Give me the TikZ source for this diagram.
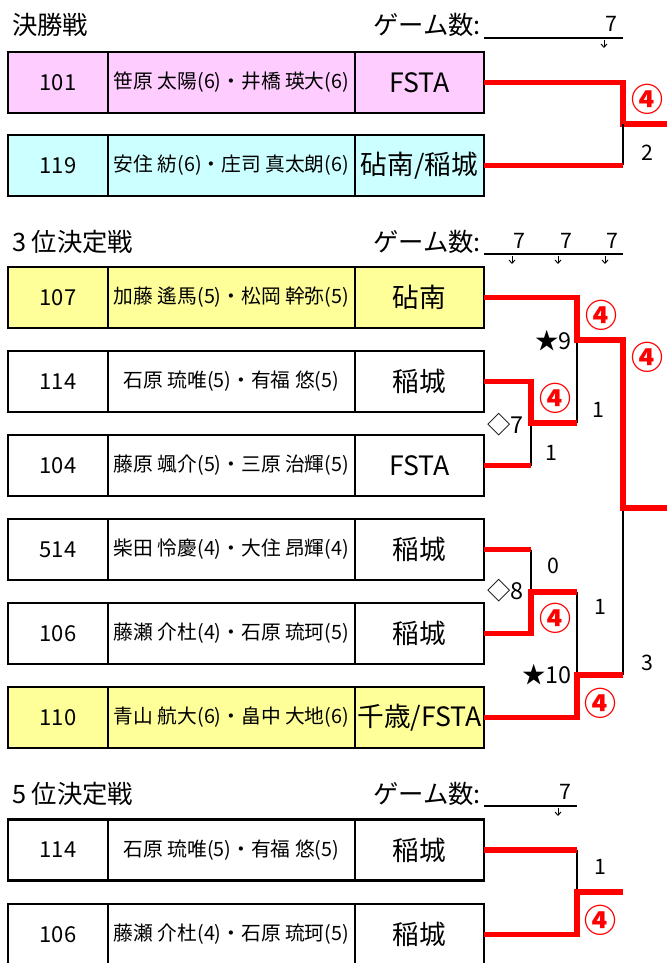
\documentclass[tikz,border=0pt]{standalone}
\usepackage{fontspec}
\setmainfont{Noto Sans CJK JP}
\usetikzlibrary{arrows.meta}
\definecolor{pinkc}{HTML}{FFCCFF}
\definecolor{cyanc}{HTML}{CCFFFF}
\definecolor{yelc}{HTML}{FFFF99}
\definecolor{redc}{HTML}{FF0000}
\tikzset{
 cell/.style={draw=black, line width=2.1pt, inner sep=0pt, outer sep=0pt, minimum height=45.75pt, align=center},
 numc/.style={cell, minimum width=75pt, font=\fontsize{16.5}{18}\selectfont},
 namec/.style={cell, minimum width=185.25pt, font=\fontsize{14.8}{16}\selectfont},
 teamc/.style={cell, minimum width=96.75pt, font=\fontsize{20}{22}\selectfont},
 win/.style={draw=redc, line width=4.2pt},
 lose/.style={draw=black, line width=2.2pt},
 hdr/.style={font=\fontsize{19}{21}\selectfont, inner sep=0pt},
 score/.style={font=\fontsize{16}{18}\selectfont, inner sep=0pt},
 matchlbl/.style={font=\fontsize{17.5}{19}\selectfont, inner sep=0pt},
 four/.style={text=redc, font=\bfseries\fontsize{24}{26}\selectfont, inner sep=0pt},
 tick/.style={line width=0.7pt, -{Straight Barb[length=2.5pt,width=4.5pt]}},
 gline/.style={line width=1.7pt},
}
\newcommand\brow[6]{%
 \node[numc, fill=#3] (#1n) at (58,#2) {#4};
 \node[namec, fill=#3] (#1m) at (231.5,#2) {#5};
 \node[teamc, fill=#3] (#1t) at (419.5,#2) {#6};
}
\begin{document}
\begin{tikzpicture}[x=0.75pt,y=-0.75pt]
\clip (0,0) rectangle (667,963);
\fill[white] (0,0) rectangle (667,963);

% ---------- headers ----------
\node[hdr, anchor=west] (h1) at (12,25) {決勝戦};
\node[hdr, anchor=east] (g1) at (481,25) {ゲーム数:};
\draw[gline] (484,38) -- (623,38);
\node[score] (n1a) at (611,24) {7};
\draw[tick] (604,40) -- (604,48);

\node[hdr, anchor=west] (h2) at (12,242) {3 位決定戦};
\node[hdr, anchor=east] (g2) at (481,242) {ゲーム数:};
\draw[gline] (484,254) -- (623,254);
\node[score] (n2a) at (519,241) {7};
\node[score] (n2b) at (566,241) {7};
\node[score] (n2c) at (612,241) {7};
\draw[tick] (512,256) -- (512,264);
\draw[tick] (558,256) -- (558,264);
\draw[tick] (605,256) -- (605,264);

\node[hdr, anchor=west] (h3) at (12,794) {5 位決定戦};
\node[hdr, anchor=east] (g3h) at (481,794) {ゲーム数:};
\draw[gline] (484,806) -- (577,806);
\node[score] (n3a) at (565,792) {7};
\draw[tick] (558,808) -- (558,816);

% ---------- rows ----------
\brow{a}{82.5}{pinkc}{101}{笹原 太陽(6)・井橋 瑛大(6)}{FSTA}
\brow{b}{165.5}{cyanc}{119}{安住 紡(6)・庄司 真太朗(6)}{砧南/稲城}

\brow{c}{297.5}{yelc}{107}{加藤 遙馬(5)・松岡 幹弥(5)}{砧南}
\brow{d}{381.5}{white}{114}{石原 琉唯(5)・有福 悠(5)}{稲城}
\brow{e}{465.5}{white}{104}{藤原 颯介(5)・三原 治輝(5)}{FSTA}
\brow{f}{549.5}{white}{514}{柴田 怜慶(4)・大住 昂輝(4)}{稲城}
\brow{g}{633.5}{white}{106}{藤瀬 介杜(4)・石原 琉珂(5)}{稲城}
\brow{h}{717.5}{yelc}{110}{青山 航大(6)・畠中 大地(6)}{千歳/FSTA}

\brow{i}{850}{white}{114}{石原 琉唯(5)・有福 悠(5)}{稲城}
\brow{j}{934.5}{white}{106}{藤瀬 介杜(4)・石原 琉珂(5)}{稲城}

% ---------- bracket coordinates ----------
\coordinate (s1j) at (623,124);
\coordinate (s1o) at (667,124);
\coordinate (m9) at (577,340);
\coordinate (q9) at (623,340);
\coordinate (f3) at (623,508);
\coordinate (o2) at (667,508);
\coordinate (m7) at (577,423);
\coordinate (k7) at (531,423);
\coordinate (k8) at (531,592);
\coordinate (m8) at (577,592);
\coordinate (m10) at (577,675);
\coordinate (g3) at (623,675);
\coordinate (k5) at (577,892);
\coordinate (o3) at (623,892);

% ---------- final ----------
\draw[win] (at.east) -| (s1j) -- (s1o);
\draw[lose] (s1j) -- (s1j |- bt.east);
\draw[win] (bt.east) -- (s1j |- bt.east);
\node[four] (w1) at (647,99) {④};
\node[score] (l1) at (647,153) {2};

% ---------- 3rd place ----------
\draw[lose] (m9) -- (m7);
\draw[lose] (k7) -- (k7 |- et.east);
\draw[lose] (k8 |- ft.east) -- (k8);
\draw[lose] (m8) -- (m10);
\draw[lose] (f3) -- (g3);
\draw[win] (ct.east) -| (m9) -- (q9) -- (f3) -- (o2);
\draw[win] (dt.east) -| (k7) -- (m7);
\draw[win] (et.east) -- (k7 |- et.east);
\draw[win] (ft.east) -- (k8 |- ft.east);
\draw[win] (gt.east) -| (k8) -- (m8);
\draw[win] (ht.east) -| (m10) -- (g3);

\node[four] (w2a) at (601,315) {④};
\node[four] (w2b) at (647,357) {④};
\node[matchlbl, anchor=east] (s9) at (572,341) {★9};
\node[four] (w2c) at (555,398) {④};
\node[score] (l2a) at (598,410) {1};
\node[matchlbl, anchor=east] (s7) at (524,425) {◇7};
\node[score] (l2b) at (551,453) {1};
\node[score] (l2c) at (553,566) {0};
\node[matchlbl, anchor=east] (s8) at (524,591) {◇8};
\node[four] (w2d) at (555,618) {④};
\node[score] (l2d) at (600,607) {1};
\node[matchlbl, anchor=east] (s10) at (572,675) {★10};
\node[four] (w2e) at (600,703) {④};
\node[score] (l2e) at (647,663) {3};

% ---------- 5th place ----------
\draw[lose] (k5 |- it.east) -- (k5);
\draw[win] (it.east) -- (k5 |- it.east);
\draw[win] (jt.east) -| (k5) -- (o3);
\node[score] (l3) at (600,867) {1};
\node[four] (w3) at (600,920) {④};
\end{tikzpicture}
\end{document}
